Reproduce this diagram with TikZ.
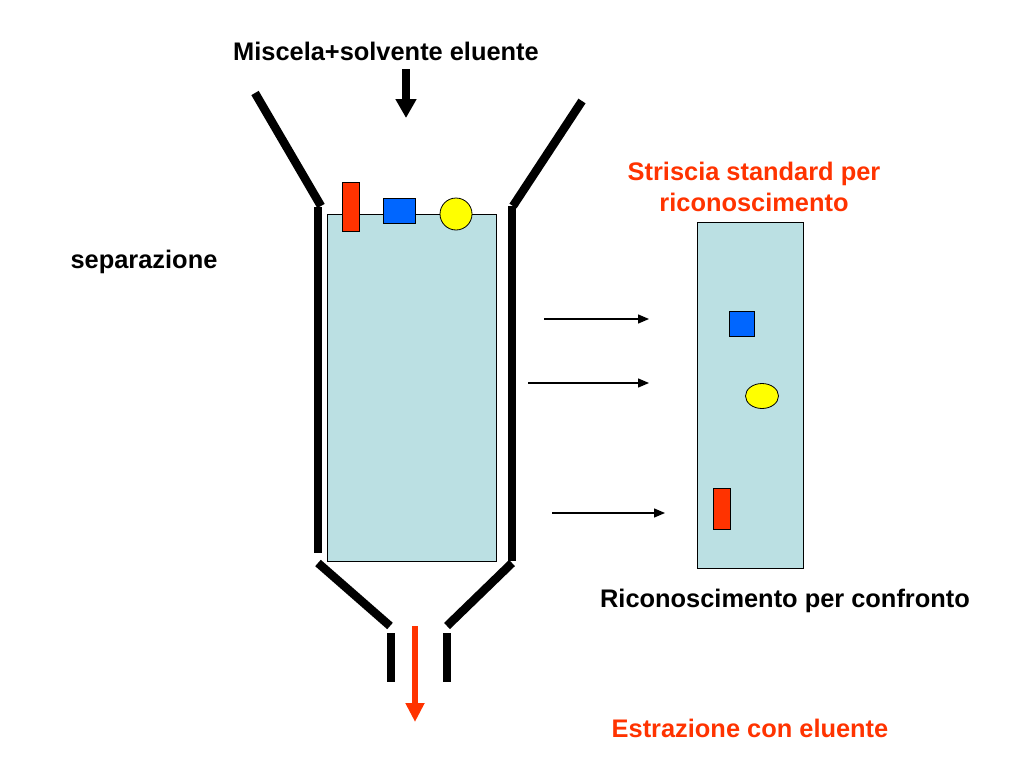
\documentclass[tikz,border=0pt]{standalone}
\usepackage{fontspec}
\setmainfont{Liberation Sans}
\usetikzlibrary{arrows.meta,shapes.geometric}
\definecolor{rred}{RGB}{255,51,0}
\definecolor{bblue}{RGB}{0,102,255}
\definecolor{lblue}{RGB}{187,224,227}
\definecolor{yyel}{RGB}{255,255,0}
\begin{document}
\begin{tikzpicture}[x=1pt,y=-1pt,
  wall/.style={line width=8.5pt,black},
  lbl/.style={font=\fontsize{25.4}{30}\selectfont\bfseries,inner sep=0pt,anchor=base},
  redlbl/.style={lbl,text=rred},
  piece/.style={draw=black,line width=0.8pt,inner sep=0pt},
  thinarrow/.style={line width=1.4pt,-{Triangle[length=11pt,width=9pt]}}]
\useasboundingbox (0,0) rectangle (1024,768);
% labels
\node[lbl] (title) at (386,60) {Miscela+solvente eluente};
\node[lbl] (sep) at (144,268) {separazione};
\node[redlbl] (stri1) at (754,180) {Striscia standard per};
\node[redlbl] (stri2) at (754,211) {riconoscimento};
\node[lbl] (conf) at (785,607) {Riconoscimento per confronto};
\node[redlbl] (estr) at (750,737) {Estrazione con eluente};
% down arrow
\coordinate (inA) at (406,69);
\coordinate (inB) at (406,118);
\draw[line width=8pt,-{Triangle[length=19pt,width=20pt]}] (inA) -- (inB);
% column
\node[draw=black,line width=0.8pt,fill=lblue,minimum width=169pt,minimum height=347pt,inner sep=0pt] (col) at (411.5,387.5) {};
% funnel walls
\draw[wall] (255,93) -- (321,206);
\draw[wall] (318,207) -- (318,553);
\draw[wall] (582,101) -- (513,206);
\draw[wall] (512,206) -- (512,561);
\draw[wall] (318,563) -- (390,626);
\draw[wall] (512,563) -- (447,626);
\draw[wall] (391,633) -- (391,682);
\draw[wall] (447,633) -- (447,682);
% pieces on column
\node[piece,fill=rred,minimum width=17pt,minimum height=49pt] (r1) at (350.5,206.5) {};
\node[piece,fill=bblue,minimum width=32pt,minimum height=25pt] (b1) at (399,210.5) {};
\node[piece,circle,fill=yyel,minimum size=32pt] (y1) at (456,214) {};
% extraction arrow
\coordinate (outA) at (415,626);
\coordinate (outB) at (415,722);
\draw[line width=6pt,rred,-{Triangle[length=19pt,width=18pt]}] (outA) -- (outB);
% standard strip
\node[draw=black,line width=0.8pt,fill=lblue,minimum width=106pt,minimum height=346pt,inner sep=0pt] (strip) at (750,395) {};
\node[piece,fill=bblue,minimum width=25pt,minimum height=25pt] (b2) at (741.5,323.5) {};
\node[piece,ellipse,fill=yyel,minimum width=33pt,minimum height=25pt] (y2) at (762,396) {};
\node[piece,fill=rred,minimum width=17pt,minimum height=41pt] (r2) at (721.5,508.5) {};
% thin arrows
\coordinate (a1s) at (544,319); \coordinate (a1e) at (649,319);
\coordinate (a2s) at (528,383); \coordinate (a2e) at (649,383);
\coordinate (a3s) at (552,513); \coordinate (a3e) at (665,513);
\draw[thinarrow] (a1s) -- (a1e);
\draw[thinarrow] (a2s) -- (a2e);
\draw[thinarrow] (a3s) -- (a3e);
\end{tikzpicture}
\end{document}
